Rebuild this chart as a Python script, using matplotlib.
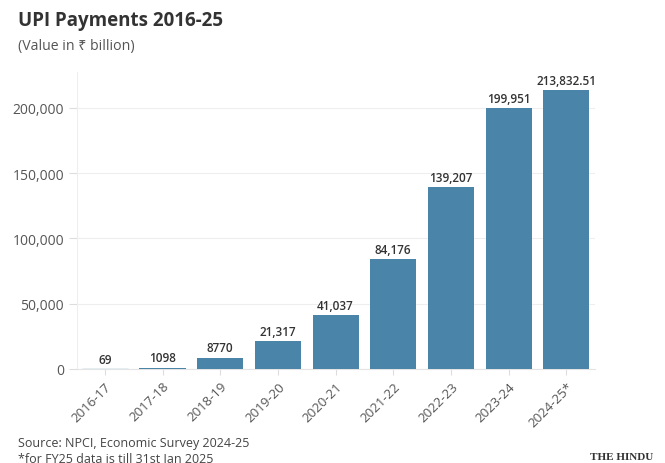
import numpy as np
from matplotlib import pyplot as plt

plt.rcParams['font.family'] = ['Open Sans', 'DejaVu Sans']

years = ['2016-17', '2017-18', '2018-19', '2019-20', '2020-21',
         '2021-22', '2022-23', '2023-24', '2024-25*']
values = [69, 1098, 8770, 21317, 41037, 84176, 139207, 199951, 213832.51]
labels = ['69', '1098', '8770', '21,317', '41,037', '84,176', '139,207',
          '199,951', '213,832.51']
yticks = [0, 50000, 100000, 150000, 200000]

fig = plt.figure(figsize=(6.65, 4.64), dpi=100)
ax = fig.add_axes([0.116, 0.2026, 0.779, 0.64])

x = np.arange(len(years))
bars = ax.bar(x, values, width=0.8, color='#4a84a8', zorder=3)
bars[0].set_color('#7fb0cc')

for xi, v, lab in zip(x, values, labels):
    ax.text(xi, v + 2500, lab, ha='center', va='bottom', fontsize=8.5,
            fontweight='semibold', color='#333333', zorder=4)

ax.set_xlim(-0.48, 8.5)
ax.set_ylim(0, 227500)
ax.set_yticks(yticks)
ax.set_yticklabels(['{:,}'.format(t) for t in yticks])
ax.set_xticks(x)
ax.set_xticklabels(years, rotation=45, ha='right', rotation_mode='anchor')
ax.tick_params(axis='y', colors='#dddddd', labelcolor='#555555', labelsize=10, length=6)
ax.tick_params(axis='x', colors='#dddddd', labelcolor='#555555', labelsize=9.5, length=4)
ax.grid(axis='y', color='#eeeeee', linewidth=0.8, zorder=0)

for s in ['top', 'right']:
    ax.spines[s].set_visible(False)
ax.spines['left'].set_color('#eeeeee')
ax.spines['bottom'].set_color('#e4e4e4')

fig.text(0.027, 0.955, 'UPI Payments 2016-25', fontsize=13.5, fontweight='bold',
         color='#333333', va='center')
fig.text(0.027, 0.9, '(Value in ₹ billion)', fontsize=10.2, color='#555555',
         va='center', family=['Open Sans', 'Noto Sans', 'DejaVu Sans'])
fig.text(0.027, 0.045, 'Source: NPCI, Economic Survey 2024-25', fontsize=9,
         color='#444444', va='center')
fig.text(0.027, 0.012, '*for FY25 data is till 31st Jan 2025', fontsize=9,
         color='#444444', va='center')
fig.text(0.983, 0.015, 'THE HINDU', fontsize=8, fontweight='bold',
         family='Liberation Serif', color='#333333', ha='right', va='center')

fig.savefig('out.png', dpi=100)
